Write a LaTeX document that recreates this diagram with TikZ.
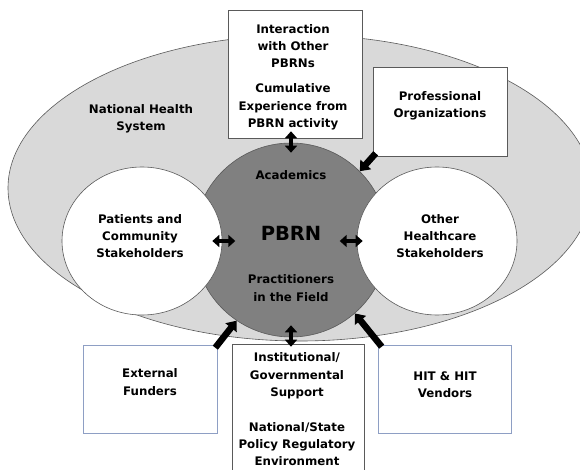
\documentclass[tikz,border=0pt]{standalone}
\usepackage{fontspec}
\setmainfont{DejaVu Sans}
\usetikzlibrary{arrows.meta,shapes.geometric}
\definecolor{nhsfill}{HTML}{D9D9D9}
\definecolor{corefill}{HTML}{808080}
\definecolor{edgegray}{HTML}{5A5A5A}
\definecolor{bluish}{HTML}{8E9FC4}
\begin{document}
\begin{tikzpicture}[x=1pt,y=-1pt,
  lbl/.style={font=\bfseries\fontsize{11.8}{17.3}\selectfont, align=center, text=black, inner sep=0},
  bigtxt/.style={font=\bfseries\fontsize{19.5}{24}\selectfont, text=black, inner sep=0},
  boxw/.style={draw=edgegray, fill=white, line width=0.6pt, inner sep=0},
  boxb/.style={draw=bluish, fill=white, line width=0.6pt, inner sep=0},
  dbl/.style={{Triangle[width=12pt,length=7pt]}-{Triangle[width=12pt,length=7pt]}, line width=4pt, black},
  sgl/.style={-{Triangle[width=14pt,length=9pt]}, line width=6.5pt, black}]
\useasboundingbox (0,0) rectangle (580,470);
\clip (0,0) rectangle (580,470);
\fill[white] (0,0) rectangle (580,470);
% national health system
\node[ellipse, draw=edgegray, fill=nhsfill, line width=0.6pt, minimum width=584, minimum height=306, inner sep=0] (nhs) at (300,188) {};
% PBRN core
\node[circle, draw=edgegray, fill=corefill, line width=0.6pt, minimum size=194, inner sep=0] (pbrn) at (291,240) {};
% stakeholder circles
\node[ellipse, draw=edgegray, fill=white, line width=0.6pt, minimum width=160, minimum height=148, inner sep=0] (pat) at (142,241) {};
\node[ellipse, draw=edgegray, fill=white, line width=0.6pt, minimum width=160, minimum height=148, inner sep=0] (oth) at (437,241) {};
% boxes
\node[boxw, minimum width=134, minimum height=128] (top) at (295,74) {};
\node[boxw, minimum width=134, minimum height=89] (prof) at (440,111.5) {};
\node[boxb, minimum width=134, minimum height=88] (ext) at (150,389) {};
\node[boxb, minimum width=133, minimum height=88] (hit) at (444.5,389) {};
\node[boxw, minimum width=132, minimum height=136] (mid) at (298,412) {};
% texts
\node[lbl] (nhst) at (141,119) {National Health\\System};
\node[lbl] (patt) at (140,236) {Patients and\\Community\\Stakeholders};
\node[lbl] (otht) at (440,236) {Other\\Healthcare\\Stakeholders};
\node[lbl] (acad) at (291,175) {Academics};
\node[bigtxt] (pbrnt) at (291,233) {PBRN};
\node[lbl] (prac) at (291,288) {Practitioners\\in the Field};
\node[lbl] (topa) at (293,46) {Interaction\\with Other\\PBRNs};
\node[lbl] (topb) at (293,107) {Cumulative\\Experience from\\PBRN activity};
\node[lbl] (proft) at (440,106) {Professional\\Organizations};
\node[lbl] (extt) at (150,382) {External\\Funders};
\node[lbl] (hitt) at (445,385) {HIT \& HIT\\Vendors};
\node[lbl] (mida) at (297,376) {Institutional/\\Governmental\\Support};
\node[lbl] (midb) at (297,444) {National/State\\Policy Regulatory\\Environment};
% connectors
\coordinate (ta) at (top.south -| pbrn.north);
\coordinate (mb) at (mid.north -| pbrn.south);
\draw[dbl] ([yshift=7pt]ta) -- ([yshift=-10pt]pbrn.north);
\draw[dbl] ([yshift=-3pt]mb) -- ([yshift=12pt]pbrn.south);
\draw[dbl] ([xshift=-10pt]pat.east) -- ([xshift=13pt]pat.east);
\draw[dbl] ([xshift=-17pt]oth.west) -- ([xshift=6pt]oth.west);
\draw[sgl] ([shift={(3pt,3pt)}]prof.south west) -- (pbrn.45);
\draw[sgl] ([shift={(-2pt,-3pt)}]ext.north east) -- (pbrn.236);
\draw[sgl] ([shift={(4pt,-2pt)}]hit.north west) -- (pbrn.311);
\end{tikzpicture}
\end{document}
